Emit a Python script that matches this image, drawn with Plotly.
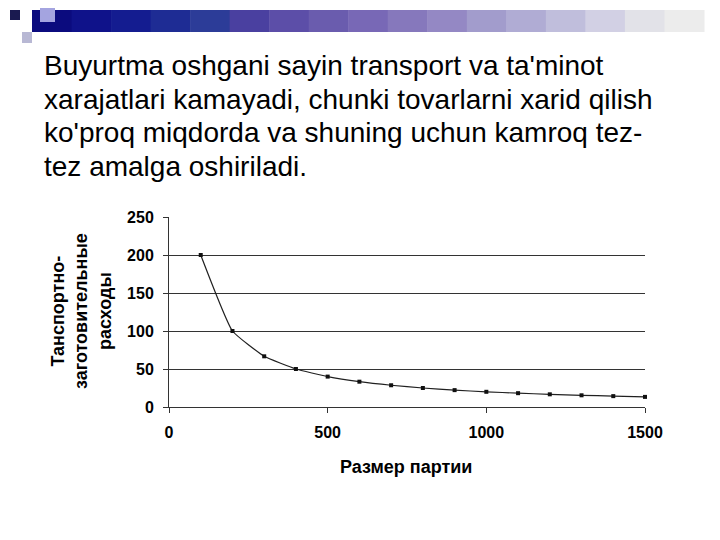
import plotly.graph_objects as go

# Data
batch_size = [100, 200, 300, 400, 500, 600, 700, 800, 900, 1000, 1100, 1200, 1300, 1400, 1500]
costs = [200, 100, 66.7, 50, 40, 33.3, 28.6, 25, 22.2, 20, 18.2, 16.7, 15.4, 14.3, 13.3]
x_ticks = [0, 500, 1000, 1500]
y_ticks = [0, 50, 100, 150, 200, 250]

text_lines = [
    "Buyurtma oshgani sayin transport va ta'minot",
    "xarajatlari kamayadi, chunki tovarlarni xarid qilish",
    "ko'proq miqdorda va shuning uchun kamroq tez-",
    "tez amalga oshiriladi.",
]
x_title = "Размер партии"
y_title = "Танспортно-<br>заготовительные<br>расходы"

OFF = 8  # page body margin
W, H = 720, 540
# target plot area in page pixels: x 169..645, y 217..407
L, T = 169 - OFF, 217 - OFF
R = W - (645 - OFF)
B = H - (407 - OFF)
PW, PH = W - L - R, H - T - B


def px(x):
    return (x - OFF - L) / PW


def py(y):
    return (H - B - (y - OFF)) / PH


FONT = "Liberation Sans, Arial, sans-serif"

fig = go.Figure()
fig.add_trace(go.Scatter(
    x=batch_size, y=costs, mode="lines+markers",
    line=dict(color="#202020", width=1.2, shape="spline", smoothing=0.4),
    marker=dict(symbol="square", size=4, color="#101010"),
    showlegend=False, cliponaxis=False,
))

shapes = []
# header decoration
shapes.append(dict(type="rect", xref="paper", yref="paper", x0=px(0), x1=px(8), y0=py(40), y1=py(0),
                   fillcolor="#dcdcf0", line_width=0, layer="below"))
shapes.append(dict(type="rect", xref="paper", yref="paper", x0=px(22), x1=px(32), y0=py(43), y1=py(32),
                   fillcolor="#b8b8d4", line_width=0, layer="below"))
seg_colors = ["#0b0b7e", "#0f128a", "#141c90", "#1e2c94", "#2c3c98", "#4a40a0", "#5c4ea8",
              "#6a5cae", "#7868b6", "#8678bc", "#9488c4", "#a29ccc", "#b0acd4", "#c0bedc",
              "#d2d0e4", "#e2e2e8", "#ececec"]
x_start, x_end = 32, 704
seg_w = (x_end - x_start) / len(seg_colors)
for i, c in enumerate(seg_colors):
    shapes.append(dict(type="rect", xref="paper", yref="paper",
                       x0=px(x_start + i * seg_w), x1=px(x_start + (i + 1) * seg_w + 0.5),
                       y0=py(32), y1=py(10), fillcolor=c, line_width=0, layer="below"))
shapes.append(dict(type="rect", xref="paper", yref="paper", x0=px(10), x1=px(20), y0=py(20), y1=py(10),
                   fillcolor="#1a1a50", line_width=0, layer="below"))
shapes.append(dict(type="rect", xref="paper", yref="paper", x0=px(40), x1=px(55), y0=py(22), y1=py(8),
                   fillcolor="#a4a4e0", line_width=0, layer="below"))

annotations = []
baselines = [74, 108, 142, 175]
for line, bl in zip(text_lines, baselines):
    annotations.append(dict(text=line, xref="paper", yref="paper", x=px(42), y=py(bl - 9),
                            xanchor="left", yanchor="middle", showarrow=False,
                            font=dict(family=FONT, size=28, color="#000000")))
annotations.append(dict(text=x_title, xref="paper", yref="paper", x=px(406), y=py(467),
                        xanchor="center", yanchor="middle", showarrow=False,
                        font=dict(family=FONT, size=18, color="#000000", weight="bold")))
annotations.append(dict(text=y_title, xref="paper", yref="paper", x=px(81), y=py(311),
                        xanchor="center", yanchor="middle", showarrow=False, textangle=-90,
                        font=dict(family=FONT, size=18, color="#000000", weight="bold")))

fig.update_layout(
    width=W, height=H,
    margin=dict(l=L, r=R, t=T, b=B, pad=0),
    paper_bgcolor="#ffffff", plot_bgcolor="#ffffff",
    shapes=shapes, annotations=annotations,
    xaxis=dict(range=[0, 1500], tickvals=x_ticks, ticks="outside", ticklen=5, tickcolor="#333333",
               showgrid=False, zeroline=False, showline=True, linecolor="#333333", linewidth=1,
               tickfont=dict(family=FONT, size=16, color="#000000", weight="bold"),
               ticklabelstandoff=6),
    yaxis=dict(range=[0, 250], tickvals=y_ticks, ticks="outside", ticklen=5, tickcolor="#333333",
               showgrid=True, gridcolor="#333333", gridwidth=1, zeroline=False,
               showline=True, linecolor="#333333", linewidth=1,
               tickfont=dict(family=FONT, size=16, color="#000000", weight="bold"),
               ticklabelstandoff=6),
)

fig.write_html("out.html")
